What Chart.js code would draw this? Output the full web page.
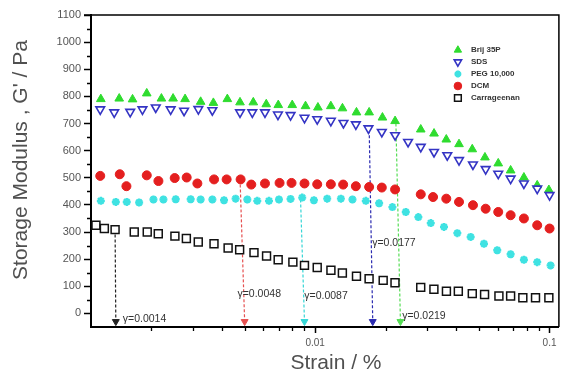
<!DOCTYPE html>
<html><head><meta charset="utf-8">
<script src="https://cdn.jsdelivr.net/npm/chart.js@4.4.1/dist/chart.umd.min.js"></script>
<style>html,body{margin:0;padding:0;background:#fff}#wrap{width:566px;height:374px;position:relative}</style>
</head><body><div id="wrap"><canvas id="c"></canvas></div>
<script>
// ---------- data ----------
const seriesNames = ['Brij 35P', 'SDS', 'PEG 10,000', 'DCM', 'Carrageenan'];

const brijStrain = [0.001217,0.001458,0.001662,0.001911,0.002207,0.002475,0.002785,0.003245,0.003677,0.004218,0.004777,0.005443,0.006183,0.006957,0.007980,0.009093,0.01027,0.01166,0.01307,0.01500,0.01699,0.01936,0.02192,0.02821,0.03214,0.03625,0.04108,0.04679,0.05300,0.06039,0.06821,0.07771,0.08856,0.09931];
const brijG = [790,792,789,811,792,792,790,780,776,790,778,778,771,768,768,764,759,764,756,741,741,722,709,678,663,641,624,605,575,553,527,501,472,455];

const sdsStrain = [0.001210,0.001388,0.001624,0.001832,0.002088,0.002417,0.002758,0.003173,0.003641,0.004777,0.005390,0.006105,0.006935,0.007849,0.009002,0.01020,0.01166,0.01320,0.01491,0.01687,0.01924,0.02192,0.02490,0.02821,0.03214,0.03661,0.04108,0.04711,0.05337,0.06039,0.06821,0.07771,0.08856,0.1000];
const sdsG = [752,741,743,752,759,752,747,753,749,741,741,741,733,731,721,716,710,702,697,682,669,657,632,614,595,583,565,549,532,515,497,479,460,436];

const pegStrain = [0.001217,0.001410,0.001570,0.001773,0.002041,0.002251,0.002540,0.002942,0.003245,0.003641,0.004083,0.004575,0.005132,0.005660,0.006350,0.007004,0.007849,0.008801,0.009873,0.01125,0.01287,0.01442,0.01644,0.01874,0.02135,0.02435,0.02755,0.03112,0.03544,0.04040,0.04606,0.05249,0.05980,0.06821,0.07771,0.08856,0.1010];
const pegG = [415,411,411,409,420,420,421,421,420,420,417,423,420,415,415,420,422,427,417,423,423,420,415,406,392,374,355,333,319,296,282,257,233,218,198,189,177];

const dcmStrain = [0.001210,0.001466,0.001565,0.001911,0.002143,0.002515,0.002829,0.003142,0.003702,0.004189,0.004805,0.005337,0.006105,0.007046,0.007925,0.009002,0.01020,0.01166,0.01316,0.01491,0.01699,0.01924,0.02192,0.02821,0.03183,0.03625,0.04108,0.04711,0.05337,0.06039,0.06821,0.07771,0.08856,0.1000];
const dcmG = [507,513,469,509,488,499,501,479,494,494,494,475,479,481,481,479,476,476,475,469,466,464,457,439,429,423,411,399,386,374,362,350,325,313];

const carrStrain = [0.00116,0.00126,0.00140,0.00169,0.00192,0.00214,0.00252,0.00282,0.00317,0.00370,0.00425,0.00476,0.00548,0.00620,0.00695,0.00803,0.00900,0.0102,0.01167,0.01306,0.0150,0.01698,0.0195,0.0219,0.0282,0.0321,0.0363,0.0408,0.0468,0.0528,0.0608,0.0682,0.0769,0.0871,0.0993];
const carrG = [325,313,309,300,300,294,285,276,263,257,241,235,224,212,198,189,177,169,159,149,137,128,122,113,96,89,82,82,73,70,64,64,58,58,58];

// critical strain markers (dashed drop lines)
const gammaLabels = ['γ=0.0014', 'γ=0.0048', 'γ=0.0087', 'γ=0.0177', 'γ=0.0219'];
const gammaTopStrain = [0.00140, 0.00478, 0.00866, 0.0170, 0.0221];
const gammaBottomStrain = [0.00141, 0.00500, 0.00900, 0.0176, 0.0231];
const gammaTopG = [309, 494, 420, 675, 700];
const gammaArrowG = -30;
const gammaLabelStrain = [0.00151, 0.00466, 0.00898, 0.0175, 0.0235];
const gammaLabelG = [-22, 70, 63, 258, -11];

// axis ticks
const yTicks = [0,100,200,300,400,500,600,700,800,900,1000,1100];
const yMinorTicks = [50,150,250,350,450,550,650,750,850,950,1050];
const xTicks = [0.01, 0.1];
const xTickLabels = ['0.01', '0.1'];
const xMinorTicks = [0.002,0.003,0.004,0.005,0.006,0.007,0.008,0.009,0.02,0.03,0.04,0.05,0.06,0.07,0.08,0.09];
const xTitle = 'Strain / %';
const yTitle = "Storage Modulus , G' / Pa";

// ---------- styles ----------
const pts = (xs, ys) => xs.map((x, i) => ({x, y: ys[i]}));
const styles = {
  'Brij 35P':   {pointStyle:'triangle', rotation:0,   radius:5,   bg:'#2fdc2f', border:'#2fdc2f', bw:1},
  'SDS':        {pointStyle:'triangle', rotation:180, radius:5,   bg:'#ffffff', border:'#3434c4', bw:1.6},
  'PEG 10,000': {pointStyle:'star',     rotation:0,   radius:4.0, bg:'#3fe2e2', border:'#3fe2e2', bw:2.4},
  'DCM':        {pointStyle:'circle',   rotation:0,   radius:4.5, bg:'#e41f1f', border:'#e41f1f', bw:1},
  'Carrageenan':{pointStyle:'rect',     rotation:0,   radius:5.6, bg:'#ffffff', border:'#111111', bw:1.5}
};
const gammaColors = ['#222222', '#e65050', '#35d6d6', '#2a2ab0', '#55dd55'];

function seriesDs(name, xs, ys) {
  const s = styles[name];
  return {label:name, data:pts(xs, ys), showLine:false, pointStyle:s.pointStyle, pointRotation:s.rotation,
    pointRadius:s.radius, pointBackgroundColor:s.bg, pointBorderColor:s.border, pointBorderWidth:s.bw,
    backgroundColor:s.bg, borderColor:s.border};
}
const datasets = [
  seriesDs('SDS', sdsStrain, sdsG),
  seriesDs('Brij 35P', brijStrain, brijG),
  seriesDs('PEG 10,000', pegStrain, pegG),
  seriesDs('DCM', dcmStrain, dcmG),
  seriesDs('Carrageenan', carrStrain, carrG)
];
gammaLabels.forEach((lab, i) => {
  datasets.push({label:lab, type:'line', data:[{x:gammaTopStrain[i], y:gammaTopG[i]}, {x:gammaBottomStrain[i], y:gammaArrowG}],
    borderColor:gammaColors[i], backgroundColor:gammaColors[i], borderWidth:1.2, borderDash:[3,2],
    pointRadius:[0,4], pointStyle:'triangle', pointRotation:180, pointBorderWidth:1, fill:false, tension:0});
});

const FONT = "'Liberation Sans', Arial, sans-serif";

const decor = {
  id:'decor',
  afterDraw(chart) {
    const {ctx, chartArea:ca, scales:{x, y}} = chart;
    ctx.save();
    // frame top / right
    ctx.strokeStyle = '#000'; ctx.lineWidth = 1.5;
    ctx.beginPath();
    ctx.moveTo(ca.left - 7, ca.top); ctx.lineTo(ca.right, ca.top); ctx.lineTo(ca.right, ca.bottom);
    ctx.stroke();
    // minor ticks
    ctx.lineWidth = 1.3;
    ctx.beginPath();
    yMinorTicks.forEach(v => { const py = Math.round(y.getPixelForValue(v)) + 0.5; ctx.moveTo(ca.left - 4, py); ctx.lineTo(ca.left, py); });
    xMinorTicks.forEach(v => { const px = Math.round(x.getPixelForValue(v)) + 0.5; ctx.moveTo(px, ca.bottom); ctx.lineTo(px, ca.bottom + 4); });
    ctx.stroke();
    // gamma labels
    ctx.fillStyle = '#333'; ctx.font = '10.5px ' + FONT; ctx.textAlign = 'left'; ctx.textBaseline = 'middle';
    gammaLabels.forEach((lab, i) => ctx.fillText(lab, x.getPixelForValue(gammaLabelStrain[i]), y.getPixelForValue(gammaLabelG[i])));
    // legend
    const mx = ca.right - 101, tx = ca.right - 88;
    seriesNames.forEach((name, i) => {
      const s = styles[name]; const ry = ca.top + 35 + i * 12;
      ctx.fillStyle = s.bg; ctx.strokeStyle = s.border; ctx.lineWidth = s.bw;
      Chart.helpers.drawPoint(ctx, {pointStyle:s.pointStyle, rotation:s.rotation, radius:s.radius * 0.85, borderWidth:s.bw}, mx, ry);
      ctx.fillStyle = '#333'; ctx.font = 'bold 8px ' + FONT; ctx.textAlign = 'left'; ctx.textBaseline = 'middle';
      ctx.fillText(name, tx, ry);
    });
    // axis titles
    ctx.fillStyle = '#505050'; ctx.font = '21px ' + FONT; ctx.textAlign = 'center'; ctx.textBaseline = 'middle';
    ctx.fillText(xTitle, 336, 363);
    ctx.translate(21, 160); ctx.rotate(-Math.PI / 2);
    ctx.fillText(yTitle, 0, 0);
    ctx.restore();
  }
};

new Chart(document.getElementById('c'), {
  type:'scatter',
  data:{datasets},
  options:{
    responsive:true, maintainAspectRatio:false, animation:false,
    layout:{padding:{left:0, right:6, top:15, bottom:0}},
    plugins:{legend:{display:false}, tooltip:{enabled:false}},
    scales:{
      x:{type:'logarithmic', min:0.001105, max:0.1096, position:'bottom',
        afterBuildTicks:s => { s.ticks = xTicks.map(v => ({value:v})); },
        afterFit:s => { s.height = 47; },
        ticks:{autoSkip:false, maxRotation:0, color:'#555', padding:4, font:{family:FONT, size:10},
          callback:(v) => { const i = xTicks.indexOf(v); return i >= 0 ? xTickLabels[i] : ''; }},
        grid:{drawOnChartArea:false, drawTicks:true, tickLength:6, tickColor:'#000', tickWidth:1.5},
        border:{display:true, color:'#000', width:2}
      },
      y:{min:-50, max:1100,
        afterBuildTicks:s => { s.ticks = yTicks.map(v => ({value:v})); },
        afterFit:s => { s.width = 91; },
        ticks:{autoSkip:false, color:'#555', padding:3, font:{family:FONT, size:11},
          callback:(v) => String(v)},
        grid:{drawOnChartArea:false, drawTicks:true, tickLength:7, tickColor:'#000', tickWidth:1.5},
        border:{display:true, color:'#000', width:2}
      }
    }
  },
  plugins:[decor]
});
</script></body></html>
